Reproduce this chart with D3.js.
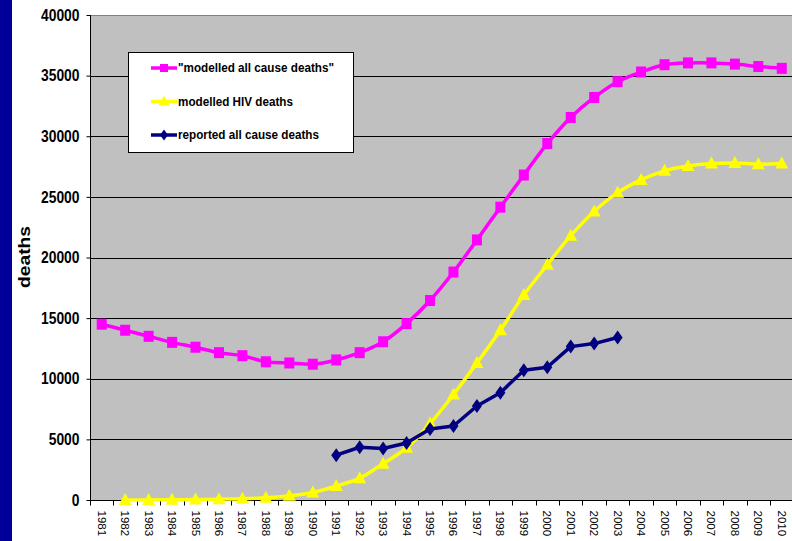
<!DOCTYPE html>
<html><head><meta charset="utf-8">
<script src="https://cdn.jsdelivr.net/npm/d3@7"></script>
<style>
html,body{margin:0;padding:0;background:#fff;}
svg{display:block;font-family:"Liberation Sans",Arial,sans-serif;}
</style></head>
<body>
<svg id="chart" width="792" height="541"></svg>
<script>
const years = d3.range(1981, 2011).map(String);
const modelledAllCause = [14500,14000,13500,13000,12600,12150,11900,11400,11300,11200,11550,12150,13050,14550,16450,18800,21450,24150,26800,29400,31550,33200,34500,35300,35900,36050,36050,35950,35750,35600];
const modelledHIV = [null,0,10,20,40,70,100,180,350,620,1150,1800,3000,4300,6300,8700,11300,14000,16900,19400,21800,23800,25350,26400,27150,27550,27750,27800,27700,27750];
const reportedAllCause = [null,null,null,null,null,null,null,null,null,null,3700,4350,4250,4700,5850,6100,7750,8850,10700,10950,12650,12900,13400,null,null,null,null,null,null,null];
const yTicks = [0,5000,10000,15000,20000,25000,30000,35000,40000];
const seriesNames = ['"modelled all cause deaths"','modelled HIV deaths','reported all cause deaths'];
const seriesColors = ['#ff00ff','#ffff00','#000080'];
const seriesMarkers = ['square','triangle','diamond'];
const yLabel = 'deaths';

const svg = d3.select('#chart');
const L = 90, T = 15, B = 500, R = 90 + 30*23.45;
const x = d3.scaleBand().domain(years).range([L, R]).padding(0);
const y = d3.scaleLinear().domain([0, 40000]).range([B, T]);

// left blue bar
svg.append('rect').attr('x',0).attr('y',0).attr('width',12).attr('height',541).attr('fill','#000099');

// plot background
svg.append('rect').attr('x',L).attr('y',T).attr('width',R-L).attr('height',B-T).attr('fill','#c0c0c0');

// gridlines
svg.append('g').selectAll('line').data(yTicks.filter(d=>d>0)).join('line')
  .attr('x1',L).attr('x2',R).attr('y1',d=>Math.round(y(d))+0.5).attr('y2',d=>Math.round(y(d))+0.5)
  .attr('stroke',d=>d===40000?'#808080':'#000').attr('stroke-width',1);

// y axis
const yAxis = svg.append('g').attr('transform',`translate(${L+0.5},0)`)
  .call(d3.axisLeft(y).tickValues(yTicks).tickSize(4).tickPadding(7).tickFormat(d3.format('d')));
yAxis.select('.domain').attr('stroke','#000').attr('d',`M0,${T}V${B}`);
yAxis.selectAll('.tick line').attr('stroke','#000');
yAxis.selectAll('.tick text').attr('font-size',16).attr('font-weight','bold').attr('fill','#000')
  .attr('font-family','"Liberation Sans",Arial,sans-serif')
  .attr('textLength',d=>String(d).length*7.7).attr('lengthAdjust','spacingAndGlyphs');

// x axis
const xAxisG = svg.append('g').attr('transform',`translate(0,${B+0.5})`);
xAxisG.append('line').attr('x1',L).attr('x2',R).attr('stroke','#000');
xAxisG.selectAll('line.tk').data(d3.range(0,31)).join('line').attr('class','tk')
  .attr('x1',i=>Math.round(L+i*x.bandwidth())+0.5).attr('x2',i=>Math.round(L+i*x.bandwidth())+0.5)
  .attr('y1',0).attr('y2',5).attr('stroke','#000');
xAxisG.selectAll('text').data(years).join('text')
  .attr('transform',d=>`translate(${x(d)+x.bandwidth()/2},10) rotate(90)`)
  .attr('dominant-baseline','central').attr('text-anchor','start')
  .attr('font-size',11.5).attr('fill','#000').text(d=>d);

// y label
svg.append('text').attr('transform','translate(24,257) rotate(-90)')
  .attr('text-anchor','middle').attr('dominant-baseline','central')
  .attr('font-size',16).attr('font-weight','bold').attr('textLength',62).attr('lengthAdjust','spacingAndGlyphs')
  .text(yLabel);

// markers
function marker(sel, type, color){
  if(type==='square') sel.append('rect').attr('x',-5).attr('y',-5.5).attr('width',10).attr('height',11).attr('fill',color);
  else if(type==='triangle') sel.append('path').attr('d','M0,-7L6.5,5L-6.5,5Z').attr('fill',color);
  else sel.append('path').attr('d','M0,-7L5,0L0,7L-5,0Z').attr('fill',color);
}

const allSeries = [modelledAllCause, modelledHIV, reportedAllCause];
const curves = [d3.curveCatmullRom.alpha(0.5), d3.curveCatmullRom.alpha(0.5), d3.curveLinear];
allSeries.forEach((vals,si)=>{
  const pts = years.map((yr,i)=>({yr, v:vals[i]})).filter(p=>p.v!==null);
  const line = d3.line().x(p=>x(p.yr)+x.bandwidth()/2).y(p=>y(p.v)).curve(curves[si]);
  svg.append('path').datum(pts).attr('d',line).attr('fill','none')
    .attr('stroke',seriesColors[si]).attr('stroke-width',3.5).attr('stroke-linejoin','round');
  svg.append('g').selectAll('g').data(pts).join('g')
    .attr('transform',p=>`translate(${x(p.yr)+x.bandwidth()/2},${y(p.v)})`)
    .each(function(){ marker(d3.select(this), seriesMarkers[si], seriesColors[si]); });
});

// legend
const lg = svg.append('g');
lg.append('rect').attr('x',128.5).attr('y',52.5).attr('width',225).attr('height',100)
  .attr('fill','#fff').attr('stroke','#000').attr('stroke-width',1);
const legY = [68, 101.5, 135];
seriesNames.forEach((n,i)=>{
  lg.append('line').attr('x1',151).attr('x2',177).attr('y1',legY[i]).attr('y2',legY[i])
    .attr('stroke',seriesColors[i]).attr('stroke-width',3.5);
  const m = lg.append('g').attr('transform',`translate(164,${legY[i]})`);
  if(seriesMarkers[i]==='square') m.append('rect').attr('x',-4).attr('y',-4).attr('width',8).attr('height',8).attr('fill',seriesColors[i]);
  else if(seriesMarkers[i]==='triangle') m.append('path').attr('d','M0,-6L5.5,4L-5.5,4Z').attr('fill',seriesColors[i]);
  else m.append('path').attr('d','M0,-5.5L4,0L0,5.5L-4,0Z').attr('fill',seriesColors[i]);
  lg.append('g').attr('transform',`translate(178,${legY[i]}) scale(0.9,1)`)
    .append('text').attr('dominant-baseline','central').attr('font-size',13).attr('font-weight','bold')
    .attr('fill','#000').text(n);
});
</script>
</body></html>
